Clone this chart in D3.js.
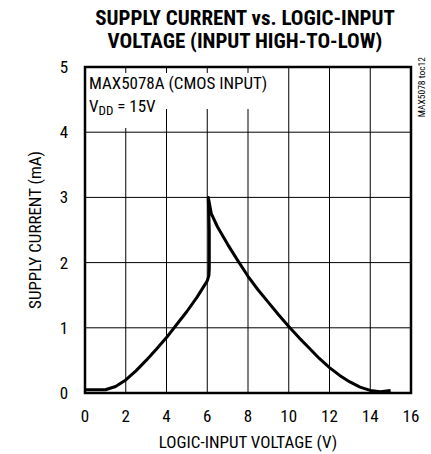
<!DOCTYPE html>
<html><head><meta charset="utf-8">
<script src="https://cdn.jsdelivr.net/npm/d3@7"></script>
<style>
body{margin:0;background:#fff;}
svg text{font-family:"Liberation Sans Narrow","Roboto Condensed","DejaVu Sans Condensed",Arial,sans-serif;font-stretch:condensed;fill:#000;}
</style></head><body>
<svg id="c" width="431" height="454"></svg>
<script>
const xTicks = [0,2,4,6,8,10,12,14,16];
const yTicks = [0,1,2,3,4,5];
const curveX = [0,0.5,1.0,1.5,2.0,2.5,3.0,3.5,4.0,4.5,5.0,5.5,6.0,6.08,6.1,6.1,6.05,6.2,6.5,7.0,7.5,8.0,8.5,9.0,9.5,10.0,10.5,11.0,11.5,12.0,12.5,13.0,13.5,14.0,14.5,15.0];
const curveY = [0.05,0.05,0.05,0.1,0.2,0.34,0.5,0.67,0.85,1.05,1.25,1.47,1.72,1.8,1.9,2.5,3.0,2.75,2.55,2.28,2.03,1.79,1.58,1.39,1.2,1.02,0.85,0.69,0.53,0.39,0.27,0.17,0.09,0.04,0.02,0.04];
const title = ["SUPPLY CURRENT vs. LOGIC-INPUT","VOLTAGE (INPUT HIGH-TO-LOW)"];

const svg = d3.select("#c");
const L=85, R=411, T=67, B=393;
const x = d3.scaleLinear().domain([0,16]).range([L,R]);
const y = d3.scaleLinear().domain([0,5]).range([B,T]);

// grid
svg.append("g").selectAll("line").data(xTicks.slice(1,-1)).join("line")
  .attr("x1",d=>x(d)).attr("x2",d=>x(d)).attr("y1",T).attr("y2",B)
  .attr("stroke","#000").attr("stroke-width",1);
svg.append("g").selectAll("line").data(yTicks.slice(1,-1)).join("line")
  .attr("x1",L).attr("x2",R).attr("y1",d=>y(d)).attr("y2",d=>y(d))
  .attr("stroke","#000").attr("stroke-width",1);

// annotation backgrounds
svg.append("rect").attr("x",L+2).attr("y",T+6).attr("width",186).attr("height",36).attr("fill","#fff");
svg.append("rect").attr("x",L+2).attr("y",T+6).attr("width",78).attr("height",55).attr("fill","#fff");
svg.append("text").attr("x",L+4).attr("y",T+22).attr("font-size",17).text("MAX5078A (CMOS INPUT)");
const vt = svg.append("text").attr("x",L+4).attr("y",T+45).attr("font-size",17);
vt.append("tspan").text("V");
vt.append("tspan").attr("font-size",13).attr("dy",3).text("DD");
vt.append("tspan").attr("dy",-3).text(" = 15V");

// curve
svg.append("path").datum(curveX.map((v,i)=>[v,curveY[i]]))
  .attr("d",d3.line().x(d=>x(d[0])).y(d=>y(d[1])).curve(d3.curveLinear))
  .attr("fill","none").attr("stroke","#000").attr("stroke-width",3).attr("stroke-linejoin","round");

// frame
svg.append("rect").attr("x",L).attr("y",T).attr("width",R-L).attr("height",B-T)
  .attr("fill","none").attr("stroke","#000").attr("stroke-width",2.5);

// tick labels
svg.append("g").selectAll("text").data(xTicks).join("text")
  .attr("x",d=>x(d)).attr("y",B+29).attr("text-anchor","middle").attr("font-size",17).text(d=>d);
svg.append("g").selectAll("text").data(yTicks).join("text")
  .attr("x",L-21).attr("y",d=>y(d)+6).attr("text-anchor","middle").attr("font-size",17).text(d=>d);

// axis titles
svg.append("text").attr("x",(L+R)/2).attr("y",448).attr("text-anchor","middle").attr("font-size",17)
  .text("LOGIC-INPUT VOLTAGE (V)");
svg.append("text").attr("transform",`translate(41,${(T+B)/2}) rotate(-90)`).attr("text-anchor","middle")
  .attr("font-size",17).text("SUPPLY CURRENT (mA)");

// title
svg.append("g").selectAll("text").data(title).join("text")
  .attr("x",245).attr("y",(d,i)=>25+i*23).attr("text-anchor","middle")
  .attr("font-size",21).attr("font-weight","bold").text(d=>d);

// side id
svg.append("text").attr("transform",`translate(425,57) rotate(-90)`).attr("text-anchor","end")
  .attr("font-size",9.5).text("MAX5078 toc12");
</script>
</body></html>
